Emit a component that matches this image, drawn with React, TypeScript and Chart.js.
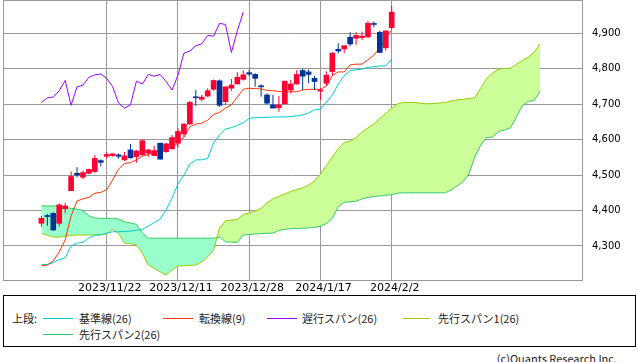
import React, { useEffect, useRef } from "react";
import { Chart, registerables } from "chart.js";

Chart.register(...registerables);

// ---- axis ticks ----
const xTickIndex = [11, 23, 35, 47, 59];
const xTickLabels = ["2023/11/22", "2023/12/11", "2023/12/28", "2024/1/17", "2024/2/2"];
const yTicks = [4300, 4400, 4500, 4600, 4700, 4800, 4900];

// ---- candles (index 0..59) ----
const openP = [
  4364, 4386, 4392, 4364, 4405, 4456, 4505, 4494, 4505, 4510,
  4541, 4553, 4555, 4557, 4543, 4571, 4552, 4557, 4562, 4555,
  4590, 4566, 4574, 4590, 4616, 4644, 4721, 4714, 4723, 4742,
  4766, 4707, 4745, 4757, 4770, 4789, 4784, 4752, 4726, 4698,
  4690, 4701, 4740, 4757, 4795, 4791, 4773, 4737, 4759, 4792,
  4855, 4856, 4889, 4886, 4888, 4890, 4927, 4903, 4859, 4916,
];
const highP = [
  4385, 4390, 4395, 4420, 4422, 4510, 4522, 4512, 4518, 4557,
  4545, 4566, 4561, 4561, 4565, 4588, 4571, 4601, 4574, 4583,
  4591, 4591, 4613, 4632, 4646, 4710, 4740, 4726, 4745, 4770,
  4770, 4750, 4771, 4790, 4796, 4797, 4787, 4756, 4731, 4726,
  4723, 4766, 4768, 4796, 4801, 4798, 4780, 4745, 4793, 4847,
  4872, 4866, 4903, 4903, 4905, 4935, 4933, 4907, 4907, 4977,
];
const lowP = [
  4354, 4357, 4343, 4355, 4392, 4456, 4494, 4488, 4502, 4506,
  4524, 4547, 4552, 4546, 4540, 4546, 4535, 4555, 4552, 4553,
  4543, 4563, 4574, 4578, 4608, 4642, 4695, 4708, 4720, 4738,
  4693, 4698, 4737, 4757, 4767, 4779, 4749, 4721, 4700, 4689,
  4679, 4701, 4730, 4755, 4740, 4759, 4740, 4712, 4752, 4780,
  4844, 4844, 4864, 4867, 4881, 4886, 4917, 4844, 4851, 4911,
];
const closeP = [
  4378, 4383, 4345, 4416, 4413, 4496, 4500, 4507, 4516, 4547,
  4536, 4558, 4560, 4553, 4554, 4549, 4568, 4597, 4571, 4569,
  4545, 4588, 4606, 4623, 4644, 4705, 4718, 4720, 4738, 4767,
  4697, 4749, 4754, 4776, 4783, 4785, 4773, 4749, 4703, 4689,
  4698, 4765, 4757, 4784, 4779, 4784, 4764, 4740, 4782, 4844,
  4850, 4865, 4870, 4894, 4892, 4928, 4925, 4846, 4907, 4960,
];

// ---- 基準線(26) (index 0..59) ----
const kijun = [
  4248, 4248, 4253, 4262, 4266, 4300, 4308, 4310, 4323, 4330,
  4331, 4336, 4340, 4340, 4341, 4342, 4344, 4347, 4356, 4366,
  4376, 4402, 4435, 4475, 4500, 4531, 4543, 4543, 4547, 4591,
  4613, 4630, 4634, 4640, 4648, 4660, 4662, 4663, 4663, 4664,
  4664, 4664, 4665, 4667, 4670, 4675, 4684, 4686, 4706, 4726,
  4757, 4780, 4795, 4797, 4799, 4804, 4806, 4808, 4808, 4828,
];

// ---- 転換線(9) (index 0..59) ----
const tenkan = [
  4244, 4246, 4258, 4283, 4317, 4385, 4427, 4433, 4437, 4449,
  4451, 4459, 4486, 4517, 4533, 4535, 4543, 4553, 4558, 4565,
  4569, 4575, 4581, 4589, 4607, 4636, 4644, 4646, 4655, 4671,
  4677, 4689, 4698, 4720, 4742, 4745, 4744, 4743, 4739, 4738,
  4736, 4735, 4735, 4735, 4740, 4742, 4742, 4742, 4751, 4781,
  4791, 4791, 4811, 4813, 4813, 4825, 4839, 4859, 4887, 4909,
];

// ---- 遅行スパン(26) (index 0..34) ----
const chikou = [
  4705, 4718, 4720, 4738, 4767, 4697, 4749, 4754, 4776, 4783,
  4785, 4773, 4749, 4703, 4689, 4698, 4765, 4757, 4784, 4779,
  4784, 4764, 4740, 4782, 4844, 4850, 4865, 4870, 4894, 4892,
  4928, 4925, 4846, 4907, 4960,
];

// ---- 先行スパン1(26) (index 0..84) ----
const span1 = [
  4335, 4330, 4325, 4325, 4327, 4330, 4331, 4331, 4331, 4331,
  4332, 4334, 4347, 4335, 4308, 4307, 4303, 4280, 4246, 4237,
  4227, 4218, 4232, 4244, 4244, 4245, 4246, 4255, 4269, 4289,
  4351, 4371, 4373, 4375, 4389, 4393, 4399, 4406, 4421, 4433,
  4440, 4447, 4454, 4459, 4464, 4472, 4483, 4503, 4526, 4551,
  4575, 4592, 4595, 4606, 4622, 4633, 4644, 4660, 4674, 4689,
  4701, 4705, 4705, 4705, 4702, 4701, 4702, 4703, 4705, 4709,
  4712, 4714, 4716, 4718, 4746, 4773, 4788, 4799, 4801, 4801,
  4813, 4823, 4833, 4847, 4870,
];

// ---- 先行スパン2(26) (index 0..84) ----
const span2 = [
  4413, 4413, 4413, 4413, 4410, 4406, 4404, 4400, 4385, 4379,
  4378, 4378, 4378, 4376, 4368, 4365, 4361, 4336, 4322, 4322,
  4322, 4322, 4322, 4322, 4322, 4322, 4322, 4322, 4322, 4322,
  4325, 4312, 4311, 4310, 4331, 4332, 4334, 4335, 4336, 4336,
  4344, 4347, 4349, 4349, 4350, 4351, 4352, 4356, 4363, 4378,
  4411, 4423, 4425, 4426, 4433, 4437, 4440, 4441, 4443, 4445,
  4449, 4450, 4450, 4450, 4450, 4450, 4450, 4450, 4450, 4458,
  4469, 4481, 4503, 4551, 4585, 4606, 4607, 4623, 4627, 4633,
  4664, 4696, 4708, 4710, 4738,
];

const UP = "#ff0033";
const DOWN = "#003399";
const C_KIJUN = "#00cccc";
const C_TENKAN = "#ff3300";
const C_CHIKOU = "#9900ff";
const C_SPAN1 = "#99cc00";
const C_SPAN2 = "#33cc66";

const framePlugin = {
  id: "frame",
  afterDraw(chart: any) {
    const { ctx, chartArea } = chart;
    const { left, top, right, bottom } = chartArea;
    ctx.save();
    ctx.strokeStyle = "#999999";
    ctx.lineWidth = 1;
    ctx.strokeRect(
      Math.round(left) + 0.5,
      Math.round(top) + 0.5,
      Math.round(right) - Math.round(left),
      Math.round(bottom) - Math.round(top)
    );
    ctx.restore();
  },
};

const toPoints = (arr: number[]) => arr.map((v, i) => ({ x: i, y: v }));

export default function App() {
  const canvasRef = useRef<HTMLCanvasElement>(null);

  useEffect(() => {
    const canvas = canvasRef.current;
    if (!canvas) return;
    const candleColors = closeP.map((c, i) => (c >= openP[i] ? UP : DOWN));
    const chart = new Chart(canvas, {
      type: "bar",
      data: {
        datasets: [
          {
            type: "bar",
            label: "body",
            data: openP.map((o, i) => ({ x: i, y: [o, closeP[i]] })) as any,
            backgroundColor: candleColors,
            borderWidth: 0,
            barThickness: 5,
            grouped: false,
            minBarLength: 1,
            order: 0,
          } as any,
          {
            type: "bar",
            label: "wick",
            data: lowP.map((l, i) => ({ x: i, y: [l, highP[i]] })) as any,
            backgroundColor: candleColors,
            borderWidth: 0,
            barThickness: 1,
            grouped: false,
            inflateAmount: 0,
            order: 1,
          } as any,
          {
            type: "line",
            label: "転換線(9)",
            data: toPoints(tenkan),
            borderColor: C_TENKAN,
            borderWidth: 1,
            pointRadius: 0,
            fill: false,
            order: 2,
          },
          {
            type: "line",
            label: "基準線(26)",
            data: toPoints(kijun),
            borderColor: C_KIJUN,
            borderWidth: 1,
            pointRadius: 0,
            fill: false,
            order: 3,
          },
          {
            type: "line",
            label: "遅行スパン(26)",
            data: toPoints(chikou),
            borderColor: C_CHIKOU,
            borderWidth: 1,
            pointRadius: 0,
            fill: false,
            order: 4,
          },
          {
            type: "line",
            label: "先行スパン1(26)",
            data: toPoints(span1),
            borderColor: C_SPAN1,
            borderWidth: 1,
            pointRadius: 0,
            fill: { target: 6, above: "#ccff99", below: "#99ffcc" },
            order: 5,
          } as any,
          {
            type: "line",
            label: "先行スパン2(26)",
            data: toPoints(span2),
            borderColor: C_SPAN2,
            borderWidth: 1,
            pointRadius: 0,
            fill: false,
            order: 6,
          },
        ],
      },
      options: {
        animation: false,
        responsive: false,
        devicePixelRatio: 1,
        events: [],
        layout: { padding: { left: 3, top: 0, right: 0, bottom: 0 } },
        plugins: {
          legend: { display: false },
          tooltip: { enabled: false },
          filler: { drawTime: "beforeDatasetsDraw" },
        } as any,
        scales: {
          x: {
            type: "linear",
            min: -6.47,
            max: 91.05,
            offset: false,
            afterBuildTicks: (s: any) => {
              s.ticks = xTickIndex.map((v) => ({ value: v }));
            },
            afterFit: (s: any) => {
              s.height = 15;
              s.paddingLeft = 0;
              s.paddingRight = 0;
            },
            grid: { color: "#999999", lineWidth: 1, drawTicks: false, offset: false },
            border: { display: false },
            ticks: {
              padding: 2,
              labelOffset: 3,
              maxRotation: 0,
              autoSkip: false,
              color: "#000000",
              font: { family: "DejaVu Sans", size: 11 },
              callback: (_v: any, index: number) => xTickLabels[index] ?? "",
            },
          } as any,
          y: {
            position: "right",
            min: 4204,
            max: 4994,
            afterBuildTicks: (s: any) => {
              s.ticks = yTicks.map((v) => ({ value: v }));
            },
            afterFit: (s: any) => {
              s.width = 56;
              s.paddingTop = 0;
              s.paddingBottom = 0;
            },
            grid: { color: "#999999", lineWidth: 1, drawTicks: false },
            border: { display: false },
            ticks: {
              padding: 10,
              color: "#000000",
              font: { family: "DejaVu Sans", size: 10 },
              callback: (v: any) => Number(v).toLocaleString("en-US"),
            },
          } as any,
        },
      },
      plugins: [framePlugin],
    });
    return () => chart.destroy();
  }, []);

  const legendFont = "'Noto Sans CJK JP', 'Noto Sans', sans-serif";
  const swatch = (left: number, top: number, width: number, color: string) => (
    <div
      style={{ position: "absolute", left, top, width, height: 1, background: color }}
    />
  );
  const label = (left: number, top: number, text: string) => (
    <div
      style={{
        position: "absolute",
        left,
        top,
        fontFamily: legendFont,
        fontSize: 11,
        lineHeight: "14px",
        color: "#222",
        whiteSpace: "nowrap",
      }}
    >
      {text}
    </div>
  );

  return (
    <div
      style={{
        position: "absolute",
        left: 0,
        top: 0,
        width: 638,
        height: 362,
        background: "#ffffff",
        overflow: "hidden",
      }}
    >
      <canvas
        ref={canvasRef}
        width={638}
        height={295}
        style={{ position: "absolute", left: 0, top: 0, width: 638, height: 295 }}
      />
      <div
        style={{
          position: "absolute",
          left: 3,
          top: 295,
          width: 633,
          height: 52,
          boxSizing: "border-box",
          border: "1px solid #000",
        }}
      />
      {label(12, 311, "上段:")}
      {swatch(43, 318, 30, C_KIJUN)}
      {label(79, 311, "基準線(26)")}
      {swatch(163, 318, 30, C_TENKAN)}
      {label(199, 311, "転換線(9)")}
      {swatch(267, 318, 30, C_CHIKOU)}
      {label(302, 311, "遅行スパン(26)")}
      {swatch(403, 318, 27, C_SPAN1)}
      {label(438, 311, "先行スパン1(26)")}
      {swatch(43, 334, 30, C_SPAN2)}
      {label(79, 327, "先行スパン2(26)")}
      <div
        style={{
          position: "absolute",
          right: 21,
          top: 351,
          fontFamily: legendFont,
          fontSize: 11,
          lineHeight: "14px",
          color: "#222",
          whiteSpace: "nowrap",
        }}
      >
        (c)Quants Research Inc.
      </div>
    </div>
  );
}
